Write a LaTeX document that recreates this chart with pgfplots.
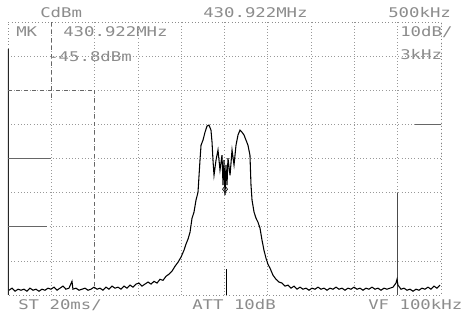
\documentclass[border=0pt]{standalone}
\usepackage{pgfplots}
\pgfplotsset{compat=1.18}
\usepackage{pgfplotstable}
\usepackage{fontspec}
\newfontfamily\lcd[FakeStretch=1.3]{DejaVu Sans Mono}
\pgfplotstableread{
x y
-248.8 -78.6
-245.4 -78.0
-241.9 -78.9
-238.4 -78.3
-235.0 -78.6
-231.5 -78.3
-228.1 -78.9
-224.6 -78.0
-221.1 -78.6
-217.7 -78.3
-214.2 -78.9
-210.8 -78.3
-207.3 -78.6
-203.8 -78.0
-200.4 -78.3
-196.9 -77.7
-193.4 -78.6
-190.0 -78.0
-186.5 -77.4
-183.1 -78.3
-179.6 -78.0
-176.1 -76.0
-175.0 -78.3
-171.5 -78.0
-168.0 -78.6
-164.5 -78.3
-161.1 -78.0
-157.6 -78.6
-154.2 -78.3
-150.7 -77.7
-147.2 -78.3
-143.8 -78.0
-140.3 -78.6
-136.8 -77.7
-133.4 -78.3
-129.9 -77.4
-126.4 -78.0
-123.0 -77.7
-119.5 -78.3
-116.0 -77.4
-112.6 -78.0
-109.1 -77.1
-105.7 -77.7
-102.2 -76.8
-98.7 -76.5
-95.3 -77.4
-91.8 -76.8
-88.3 -76.2
-84.9 -76.8
-81.4 -76.0
-77.9 -76.5
-74.5 -75.4
-71.0 -75.7
-67.5 -74.5
-64.1 -73.9
-60.6 -73.0
-57.2 -71.6
-53.7 -70.4
-50.2 -68.9
-46.8 -66.9
-44.5 -65.1
-42.1 -63.6
-39.8 -61.6
-37.5 -57.5
-35.2 -55.7
-32.9 -52.2
-30.6 -49.9
-28.3 -40.5
-27.1 -36.1
-24.8 -34.6
-22.5 -32.3
-20.2 -30.5
-17.9 -30.2
-15.6 -31.7
-14.4 -35.2
-13.3 -40.5
-12.1 -44.9
-9.8 -40.5
-7.5 -37.5
-5.2 -43.4
-2.9 -39.0
-1.7 -47.8
-0.6 -40.5
0.6 -50.7
1.7 -41.9
2.9 -47.8
4.0 -39.9
6.4 -44.9
8.7 -37.5
11.0 -41.9
13.3 -36.1
15.6 -33.1
17.9 -31.7
20.2 -32.3
22.5 -33.1
24.8 -34.6
27.1 -36.1
29.4 -39.0
30.6 -47.8
31.8 -52.2
34.1 -55.7
36.4 -57.5
38.7 -58.7
41.0 -60.4
43.3 -63.9
45.6 -66.9
47.9 -69.2
50.2 -71.0
52.5 -72.1
56.0 -74.2
59.5 -75.4
62.9 -76.2
66.4 -76.5
69.9 -77.4
73.3 -77.1
76.8 -78.0
80.3 -77.4
83.7 -78.3
87.2 -77.7
90.6 -78.3
94.1 -78.0
97.6 -78.6
101.0 -78.0
104.5 -78.3
108.0 -77.7
111.4 -78.3
114.9 -78.0
118.4 -78.6
121.8 -78.0
125.3 -78.3
128.8 -77.7
132.2 -78.3
135.7 -78.0
139.1 -78.6
142.6 -78.0
146.1 -78.3
149.5 -77.7
153.0 -78.3
156.5 -78.0
159.9 -78.6
163.4 -78.0
166.8 -78.3
170.3 -77.7
173.8 -78.3
177.2 -78.0
180.7 -78.6
184.2 -78.0
187.6 -78.3
191.1 -78.0
194.6 -77.7
198.0 -76.5
199.2 -75.4
200.3 -77.1
203.8 -78.3
207.3 -78.0
210.7 -78.6
214.2 -78.3
217.7 -78.9
221.1 -78.3
224.6 -78.6
228.0 -78.0
231.5 -78.3
235.0 -77.7
238.4 -78.3
241.9 -77.4
245.3 -78.0
248.8 -77.1
}\trace
\def\px#1#2{({#1*0.75pt},{(322-#2)*0.75pt})}
\begin{document}
\begin{tikzpicture}
\path[use as bounding box, fill=white] (0,0) rectangle (350.25pt,241.5pt);
\begin{axis}[at={(6pt,20.25pt)}, anchor=south west, scale only axis,
  width=324.75pt, height=204.75pt,
  xmin=-250, xmax=250, ymin=-80, ymax=0,
  xtick={-200,-150,...,200}, ytick={-70,-60,...,-10},
  xticklabels={}, yticklabels={}, major tick length=0pt,
  grid=major, major grid style={dotted, black!40, line width=0.5pt},
  axis line style={dotted, black!45, line width=0.5pt}]
\draw[black!85, line width=0.8pt] (axis cs:-250,-8) -- (axis cs:-250,-80);
\draw[black!60, line width=0.5pt, dashed] (axis cs:-250,-20) -- (axis cs:-150,-20);
\draw[black!60, line width=0.5pt] (axis cs:-250,-40) -- (axis cs:-200,-40);
\draw[black!60, line width=0.5pt] (axis cs:-250,-60) -- (axis cs:-205,-60);
\draw[black!60, line width=0.5pt, dashed] (axis cs:-200,0) -- (axis cs:-200,-23);
\draw[black!60, line width=0.5pt, dashed] (axis cs:-150,-20) -- (axis cs:-150,-78);
\draw[black!70, line width=0.5pt, dash dot] (axis cs:250,0) -- (axis cs:250,-41);
\draw[black!70, line width=0.5pt] (axis cs:200,-50) -- (axis cs:200,-80);
\draw[black!60, line width=0.5pt] (axis cs:220,-30) -- (axis cs:250,-30);
\addplot[black, line width=0.8pt] table[x=x, y=y] {\trace};
\addplot[black, line width=0.6pt] coordinates {(1.7,-72.5) (1.7,-80)};
\addplot[black, only marks, mark=diamond, mark size=2.5pt, mark options={line width=0.5pt}] coordinates {(0.6,-49.0)};
\end{axis}
\begin{scope}[every node/.style={text=black!45, inner sep=0pt, font=\lcd\fontsize{10pt}{12pt}\selectfont, anchor=west}]
\node at \px{40}{13} {CdBm};
\node at \px{203}{13} {430.922MHz};
\node at \px{388}{13} {500kHz};
\node at \px{16}{32} {MK};
\node at \px{63}{32} {430.922MHz};
\node at \px{48}{57} {-45.8dBm};
\node at \px{400}{32} {10dB/};
\node at \px{400}{55} {3kHz};
\node at \px{18}{305} {ST 20ms/};
\node at \px{192}{305} {ATT 10dB};
\node at \px{368}{305} {VF 100kHz};
\end{scope}
\end{tikzpicture}
\end{document}
